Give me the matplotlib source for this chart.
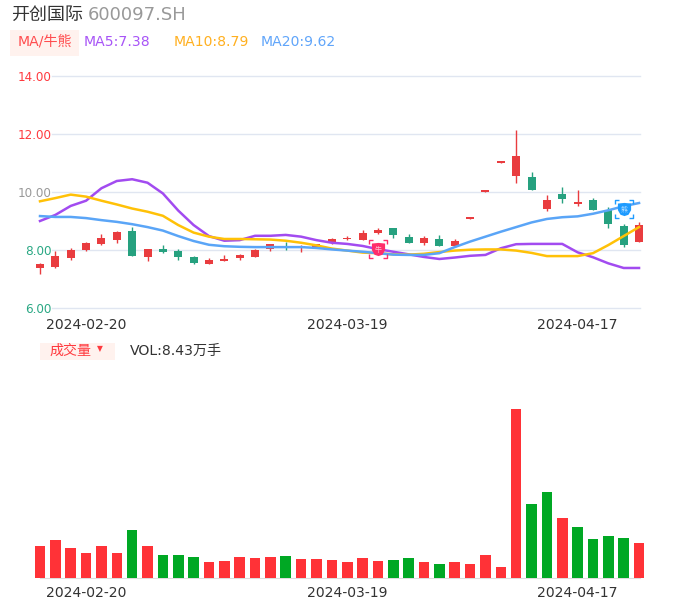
import numpy as np
import matplotlib
matplotlib.use('Agg')
import matplotlib.pyplot as plt
from matplotlib.path import Path
from matplotlib.patches import Rectangle

plt.rcParams['font.family'] = ['DejaVu Sans', 'Noto Sans CJK SC']

W, H = 686, 606

# candles
opens = [7.39, 7.40, 7.71, 8.00, 8.22, 8.36, 8.64, 7.77, 8.05, 7.97,
         7.77, 7.53, 7.63, 7.71, 7.77, 8.05, 8.15, 8.12, 8.09, 8.23,
         8.39, 8.36, 8.59, 8.75, 8.44, 8.25, 8.37, 8.15, 9.08, 10.00,
         11.01, 10.55, 10.53, 9.41, 9.93, 9.60, 9.72, 9.38, 8.83, 8.29]
closes = [7.53, 7.78, 8.00, 8.25, 8.40, 8.63, 7.80, 8.02, 7.94, 7.77,
          7.54, 7.64, 7.69, 7.84, 8.01, 8.20, 8.09, 8.13, 8.21, 8.39,
          8.43, 8.57, 8.69, 8.51, 8.25, 8.41, 8.15, 8.31, 9.15, 10.06,
          11.07, 11.23, 10.08, 9.72, 9.75, 9.66, 9.38, 8.91, 8.16, 8.86]
highs = [7.56, 7.97, 8.06, 8.29, 8.55, 8.66, 8.80, 8.03, 8.16, 8.02,
         7.79, 7.71, 7.83, 7.86, 8.02, 8.21, 8.29, 8.16, 8.22, 8.40,
         8.49, 8.69, 8.75, 8.75, 8.55, 8.48, 8.52, 8.38, 9.15, 10.06,
         11.07, 12.14, 10.69, 9.89, 10.18, 10.06, 9.79, 9.47, 8.90, 8.95]
lows = [7.16, 7.39, 7.67, 7.97, 8.17, 8.24, 7.78, 7.63, 7.89, 7.67,
        7.52, 7.52, 7.61, 7.67, 7.76, 7.97, 8.00, 7.94, 8.08, 8.22,
        8.34, 8.34, 8.54, 8.40, 8.24, 8.18, 8.14, 8.10, 9.08, 10.00,
        11.01, 10.32, 10.07, 9.36, 9.63, 9.52, 9.37, 8.75, 8.11, 8.28]

ma5 = [9.00, 9.21, 9.52, 9.70, 10.13, 10.38, 10.44, 10.32, 9.95, 9.36,
       8.86, 8.48, 8.32, 8.34, 8.49, 8.49, 8.52, 8.46, 8.34, 8.25,
       8.21, 8.14, 8.03, 7.94, 7.85, 7.76, 7.69, 7.74, 7.80, 7.83,
       8.06, 8.20, 8.21, 8.21, 8.21, 7.92, 7.75, 7.54, 7.38, 7.38]
ma10 = [9.68, 9.79, 9.91, 9.84, 9.70, 9.57, 9.43, 9.32, 9.18, 8.86,
        8.60, 8.46, 8.38, 8.38, 8.37, 8.36, 8.32, 8.25, 8.16, 8.05,
        7.98, 7.91, 7.89, 7.85, 7.84, 7.87, 7.93, 7.98, 8.01, 8.02,
        8.02, 7.98, 7.90, 7.79, 7.79, 7.79, 7.89, 8.17, 8.48, 8.79]
ma20 = [9.17, 9.14, 9.14, 9.10, 9.03, 8.97, 8.89, 8.79, 8.67, 8.48,
        8.31, 8.18, 8.13, 8.11, 8.10, 8.10, 8.10, 8.10, 8.07, 8.02,
        7.98, 7.94, 7.89, 7.84, 7.83, 7.83, 7.89, 8.10, 8.29, 8.46,
        8.63, 8.79, 8.95, 9.07, 9.13, 9.16, 9.25, 9.37, 9.51, 9.62]

# volume in 万手, bar colour comes from up flags
volumes = [7.71, 9.07, 7.23, 6.10, 7.63, 5.94, 11.56, 7.71, 5.46, 5.54,
           4.98, 3.77, 4.18, 5.06, 4.82, 5.06, 5.30, 4.50, 4.66, 4.34,
           3.93, 4.74, 4.10, 4.34, 4.74, 3.93, 3.37, 3.85, 3.29, 5.54,
           2.73, 40.70, 17.75, 20.64, 14.45, 12.29, 9.31, 10.12, 9.56, 8.43]
vol_up = [1, 1, 1, 1, 1, 1, 0, 1, 0, 0,
          0, 1, 1, 1, 1, 1, 0, 1, 1, 1,
          1, 1, 1, 0, 0, 1, 0, 1, 1, 1,
          1, 1, 0, 0, 1, 0, 0, 0, 0, 1]

price_ticks = [6, 8, 10, 12, 14]
price_colors = ['#2aa884', '#2aa884', '#999999', '#ff3a3f', '#ff3a3f']
date_pos = [3, 20, 35]
date_labels = ['2024-02-20', '2024-03-19', '2024-04-17']

RED = '#e93c3f'
GREEN = '#26a17f'
VRED = '#ff3237'
VGREEN = '#00a824'
GRID = '#e0e6f1'


def px_axes(fig, x0, x1, ytop, ybot):
    return fig.add_axes([x0 / W, 1 - ybot / H, (x1 - x0) / W, (ybot - ytop) / H])


def px_text(fig, x, y, s, size, color, ha='left'):
    return fig.text(x / W, 1 - y / H, s, fontsize=size * 0.72, color=color, ha=ha, va='center')


def px_box(fig, x0, y0, x1, y1, color):
    fig.add_artist(Rectangle((x0 / W, 1 - y1 / H), (x1 - x0) / W, (y1 - y0) / H,
                             transform=fig.transFigure, color=color, lw=0))


fig = plt.figure(figsize=(W / 100, H / 100), dpi=100)
x = np.arange(len(opens))
step = 15.36

# price panel
ax = px_axes(fig, 52, 640, 76, 308)
ax.set_xlim((52 - 40) / step, (640 - 40) / step)
ax.set_ylim(6, 14)
opens_a, closes_a = np.array(opens), np.array(closes)
up = closes_a >= opens_a
cols = [RED if u else GREEN for u in up]
ax.vlines(x, lows, highs, colors=cols, lw=1.0, clip_on=False, zorder=2)
ax.bar(x, np.abs(closes_a - opens_a), bottom=np.minimum(opens_a, closes_a), width=8 / step,
       color=cols, clip_on=False, zorder=3)
ax.plot(x, ma5, color='#a24bf0', lw=1.8, zorder=4, solid_joinstyle='round', clip_on=False)
ax.plot(x, ma10, color='#ffc107', lw=1.8, zorder=5, solid_joinstyle='round', clip_on=False)
ax.plot(x, ma20, color='#5aa5f7', lw=1.8, zorder=6, solid_joinstyle='round', clip_on=False)

ax.set_yticks(price_ticks)
ax.set_yticklabels(['%.2f' % t for t in price_ticks], fontsize=12 * 0.72)
for lab, c in zip(ax.get_yticklabels(), price_colors):
    lab.set_color(c)
ax.set_xticks(date_pos)
ax.set_xticklabels(date_labels, fontsize=14 * 0.72, color='#333333')
ax.tick_params(length=0, pad=0)
ax.tick_params(axis='x', pad=7)
ax.grid(axis='y', color=GRID, lw=1, clip_on=False)
ax.set_axisbelow(True)
for s in ax.spines.values():
    s.set_visible(False)

# bull / bear badges
shield = Path([(-1, 0.9), (0, 1), (1, 0.9), (1, -0.1), (0.6, -0.8), (0, -1), (-0.6, -0.8), (-1, -0.1), (-1, 0.9)],
              closed=True)
br_v, br_c = [], []
for sx, sy in [(-1, -1), (1, -1), (1, 1), (-1, 1)]:
    br_v += [(sx * 0.55, sy), (sx, sy), (sx, sy * 0.55)]
    br_c += [Path.MOVETO, Path.LINETO, Path.LINETO]
brackets = Path(br_v, br_c)
for idx, val, col, txt in [(22, 8.03, '#ff2d6b', '牛'), (38, 9.40, '#1e9bff', '熊')]:
    ax.plot([idx], [val], marker=shield, ms=9.5, color=col, mew=0, clip_on=False, zorder=8)
    ax.plot([idx], [val], marker=brackets, ms=12.5, mfc='none', mec=col, mew=1.0, clip_on=False, zorder=8)
    ax.text(idx, val, txt, fontsize=5, color='white', ha='center', va='center', zorder=9, alpha=0.7)

# volume panel
ax2 = px_axes(fig, 40, 640, 409, 578)
ax2.set_xlim(0, (640 - 40) / step)
ax2.set_ylim(0, 40.7)
ax2.bar(x, volumes, width=10.6 / step, color=[VRED if u else VGREEN for u in vol_up],
        clip_on=False, zorder=3)
ax2.set_yticks([])
ax2.set_xticks(date_pos)
ax2.set_xticklabels(date_labels, fontsize=14 * 0.72, color='#333333')
ax2.tick_params(length=0, pad=6)
for s in ['top', 'left', 'right']:
    ax2.spines[s].set_visible(False)
ax2.spines['bottom'].set_color('#dddddd')

# header
px_text(fig, 11, 15, '开创国际', 18, '#333333')
px_text(fig, 88, 15, '600097.SH', 18, '#999999')
px_box(fig, 10, 30, 79, 56, '#fff2ee')
px_text(fig, 44.5, 41.5, 'MA/牛熊', 14, '#ff4d4f', ha='center')
px_text(fig, 84, 41.5, 'MA5:7.38', 14, '#a855f7')
px_text(fig, 174, 41.5, 'MA10:8.79', 14, '#ffb020')
px_text(fig, 261, 41.5, 'MA20:9.62', 14, '#60a5fa')

px_box(fig, 40, 343, 115, 360, '#fff2ee')
px_text(fig, 71, 351, '成交量', 14, '#ff3a3f', ha='center')
fig.text(100 / W, 1 - 349 / H, '▼', fontsize=5.5, color='#ff3a3f', ha='center', va='center')
px_text(fig, 130, 351, 'VOL:8.43万手', 14, '#333333')

fig.savefig('out.png', dpi=100)
